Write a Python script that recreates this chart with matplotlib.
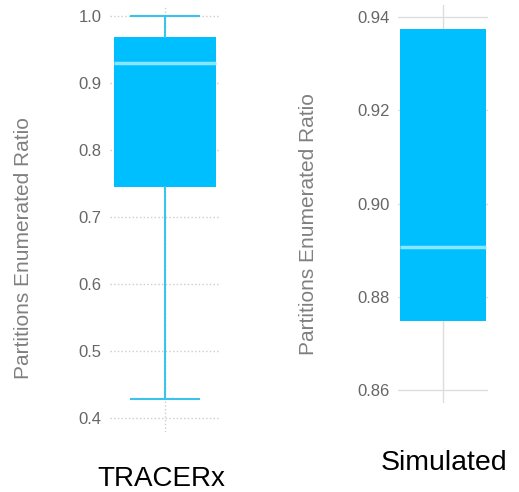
import matplotlib
matplotlib.use("Agg")
from matplotlib import pyplot as plt

plt.rcParams['font.family'] = ['Liberation Sans', 'DejaVu Sans']

# box statistics
tracerx_stats = dict(whislo=0.428, q1=0.745, med=0.930, q3=0.968, whishi=1.0)
simulated_stats = dict(whislo=0.8748, q1=0.8748, med=0.8907, q3=0.9374, whishi=0.9374)

tracerx_ticks = [0.4, 0.5, 0.6, 0.7, 0.8, 0.9, 1.0]
simulated_ticks = [0.86, 0.88, 0.90, 0.92, 0.94]

box_color = '#00BFFF'
median_color = '#8AE6FF'
ylabel = 'Partitions Enumerated Ratio'

W, H = 519, 492
fig = plt.figure(figsize=(W / 100, H / 100), dpi=100)


def px_axes(x0, y0, x1, y1):
    return fig.add_axes([x0 / W, 1 - y1 / H, (x1 - x0) / W, (y1 - y0) / H])


def style(ax, ticks, fmt):
    for s in ax.spines.values():
        s.set_visible(False)
    ax.set_yticks(ticks)
    ax.set_yticklabels([fmt.format(t) for t in ticks])
    ax.set_xticks([1])
    ax.set_xticklabels([''])
    ax.tick_params(length=0, labelsize=12, labelcolor='#666666', pad=6)


# left panel
ax1 = px_axes(110, 5, 220, 432)
ax1.bxp([dict(tracerx_stats, label='')], positions=[1], widths=0.93,
        capwidths=0.61, showfliers=False, patch_artist=True,
        boxprops=dict(facecolor=box_color, edgecolor=box_color, linewidth=0),
        medianprops=dict(color=median_color, linewidth=2.5),
        whiskerprops=dict(color='#3CC3EC', linewidth=1.5),
        capprops=dict(color='#3CC3EC', linewidth=1.5), zorder=3)
ax1.set_xlim(0.5, 1.5)
ax1.set_ylim(0.379, 1.016)
style(ax1, tracerx_ticks, '{:.1f}')
ax1.grid(True, linestyle=':', color='#cccccc', linewidth=1)
ax1.set_axisbelow(True)
ax1.set_ylabel(ylabel, fontsize=15, color='#808080')
ax1.yaxis.set_label_coords(-0.70, 0.43)
fig.text(161 / W, 1 - 479 / H, 'TRACERx', fontsize=20, ha='center', va='center')

# right panel
ax2 = px_axes(398, 5, 488, 403)
ax2.bxp([dict(simulated_stats, label='')], positions=[1], widths=0.955,
        showcaps=False, showfliers=False, patch_artist=True,
        boxprops=dict(facecolor=box_color, edgecolor=box_color, linewidth=0),
        medianprops=dict(color=median_color, linewidth=2.5),
        whiskerprops=dict(linewidth=0), zorder=3)
ax2.set_xlim(0.5, 1.5)
ax2.set_ylim(0.8572, 0.9426)
style(ax2, simulated_ticks, '{:.2f}')
ax2.grid(True, linestyle='-', color='#dddddd', linewidth=1)
ax2.set_axisbelow(True)
ax2.set_ylabel(ylabel, fontsize=15, color='#808080')
ax2.yaxis.set_label_coords(-0.89, 0.45)
fig.text(444 / W, 1 - 463 / H, 'Simulated', fontsize=20.5, ha='center', va='center')

fig.savefig('out.png', dpi=100)
